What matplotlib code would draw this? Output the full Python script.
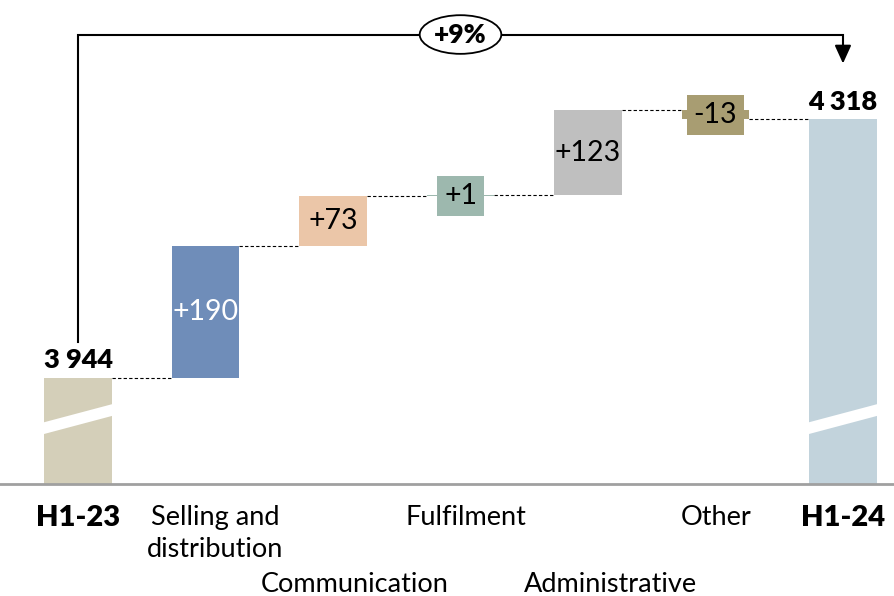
import numpy as np
import matplotlib.pyplot as plt
from matplotlib.patches import Polygon, Ellipse

plt.rcParams['font.family'] = ['Lato', 'DejaVu Sans']

categories = ['H1-23', 'Selling and\ndistribution', 'Communication', 'Fulfilment',
              'Administrative', 'Other', 'H1-24']
start_value = 3944
changes = [190, 73, 1, 123, -13]
end_value = 4318
change_labels = ['+190', '+73', '+1', '+123', '-13']
growth_label = '+9%'

colors = ['#D4CFB9', '#6F8DB9', '#EBC6A8', '#9DB8AE', '#BFBFBF', '#A89D72', '#C2D3DC']
label_colors = ['white', 'black', 'black', 'black', 'black']

ymin, ymax = 3790, 4491
width = 0.53

fig = plt.figure(figsize=(8.95, 5.96), dpi=100)
ax = fig.add_axes([0, 112 / 596, 1, 484 / 596])
ax.set_xlim(-0.612, 6.408)
ax.set_ylim(ymin, ymax)
for s in ['top', 'left', 'right']:
    ax.spines[s].set_visible(False)
ax.spines['bottom'].set_color('#A0A0A0')
ax.spines['bottom'].set_linewidth(2)
ax.set_xticks([])
ax.set_yticks([])

# totals
n = len(categories)
ax.bar(0, start_value - ymin, bottom=ymin, width=width, color=colors[0])
ax.bar(n - 1, end_value - ymin, bottom=ymin, width=width, color=colors[-1])

# break marks
for xi in [0, n - 1]:
    x0, x1 = xi - width / 2 - 0.01, xi + width / 2 + 0.01
    y0, y1, t = 3862, 3889, 17
    ax.add_patch(Polygon([(x0, y0), (x1, y1), (x1, y1 + t), (x0, y0 + t)],
                         closed=True, facecolor='white', edgecolor='none', zorder=3))

# changes
running = [start_value]
for c in changes:
    running.append(running[-1] + c)
for i, c in enumerate(changes):
    x = i + 1
    bottom = running[i] if c >= 0 else running[i + 1]
    ax.bar(x, abs(c), bottom=bottom, width=width, color=colors[x])
    mid = running[i] + c / 2
    if abs(c) < 40:
        ax.text(x, mid, change_labels[i], ha='center', va='center', fontsize=20.5,
                color='black', zorder=4,
                bbox=dict(boxstyle='square,pad=0.25', facecolor=colors[x], edgecolor='none'))
    else:
        ax.text(x, mid, change_labels[i], ha='center', va='center', fontsize=20.5,
                color=label_colors[i], zorder=4)

# connectors
for i in range(n - 1):
    ax.plot([i + width / 2, i + 1 - width / 2], [running[i]] * 2,
            color='black', lw=0.8, ls=(0, (3, 2)))

# total labels
ax.text(0, start_value + 8, f'{start_value:,}'.replace(',', ' '), ha='center', va='bottom',
        fontsize=19.5, fontweight='heavy')
ax.text(n - 1, end_value + 8, f'{end_value:,}'.replace(',', ' '), ha='center', va='bottom',
        fontsize=19.5, fontweight='heavy')

# bracket
top = 4441
ax.plot([0, 0, n - 1, n - 1], [3995, top, top, 4418], color='black', lw=1.5,
        solid_joinstyle='miter')
ax.annotate('', xy=(n - 1, 4395), xytext=(n - 1, 4420),
            arrowprops=dict(arrowstyle='-|>,head_width=0.5,head_length=1.1',
                            color='black', lw=1.5))
ax.add_patch(Ellipse((3, top), 0.64, 56, facecolor='white', edgecolor='black', lw=1.3, zorder=3))
ax.text(3, top, growth_label, ha='center', va='center', fontsize=19, fontweight='heavy', zorder=4)

# category labels
dx = [0, 10, 22, 5, 22, 1, 0]
dy = [-21, -21, -88, -21, -88, -21, -21]
for i, lab in enumerate(categories):
    bold = i in (0, n - 1)
    ax.annotate(lab, xy=(i, ymin), xytext=(dx[i], dy[i]), textcoords='offset pixels',
                ha='center', va='top', fontsize=21 if bold else 19.5,
                fontweight='heavy' if bold else 'normal', linespacing=1.35,
                annotation_clip=False)

fig.savefig('out.png', dpi=100)
